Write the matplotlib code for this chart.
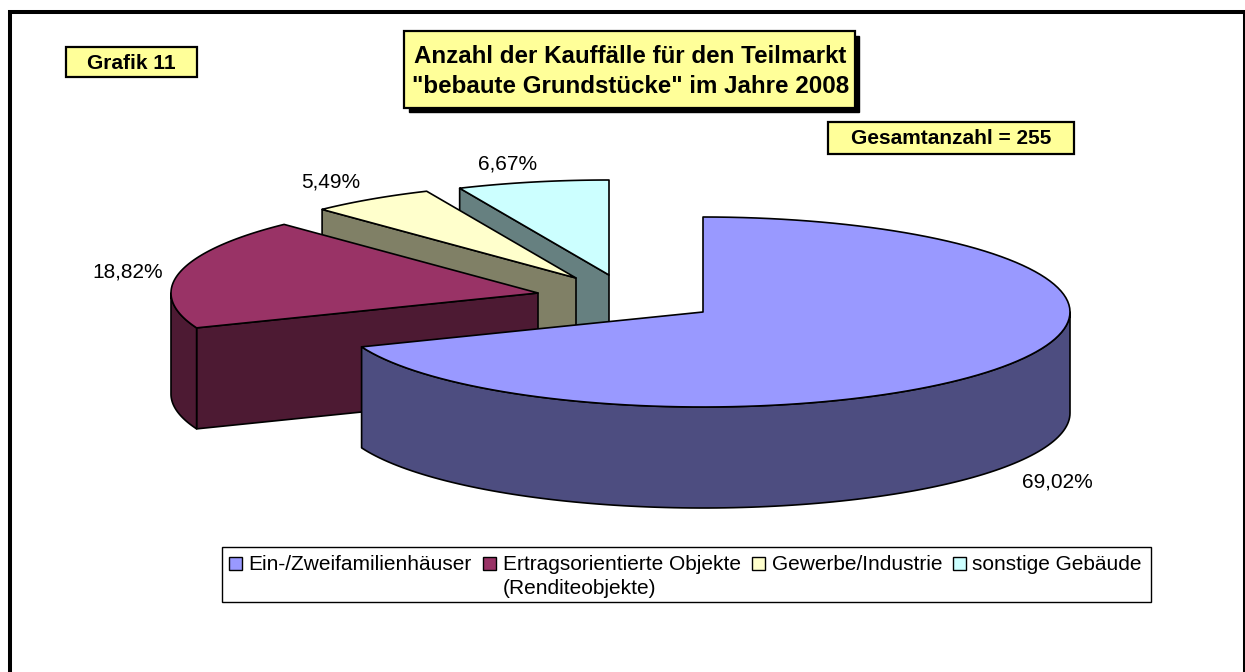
import numpy as np
import matplotlib
matplotlib.use("Agg")
import matplotlib.pyplot as plt
from matplotlib.patches import Polygon, Rectangle

plt.rcParams['font.family'] = ['Liberation Sans', 'DejaVu Sans']

# Daten
kategorien = ['Ein-/Zweifamilienhäuser', 'Ertragsorientierte Objekte\n(Renditeobjekte)',
              'Gewerbe/Industrie', 'sonstige Gebäude']
anteile = [69.02, 18.82, 5.49, 6.67]
farben = ['#9999FF', '#993366', '#FFFFCC', '#CCFFFF']
farben_seite = ['#4D4D80', '#4D1A33', '#808066', '#668080']

# Layout in Pixeln (Achse = Bild)
zentren = [(703, 312), (538, 293), (576, 278), (609, 275)]
RX, RY, TIEFE = 367, 95, 101
label_pos = [(1057, 488), (128, 277), (331, 188), (508, 170)]
legende_swatch_x = [229, 483, 752, 953]
legende_text_x = [248, 503, 772, 972]

fig = plt.figure(figsize=(12.45, 6.72), dpi=100)
ax = fig.add_axes([0, 0, 1, 1])
ax.set_xlim(0, 1245)
ax.set_ylim(672, 0)
ax.axis('off')


def bogen(cx, cy, w1, w2, dy=0):
    w = np.radians(np.linspace(w1, w2, 120))
    return np.column_stack([cx + RX * np.sin(w), cy - RY * np.cos(w) + dy])


# Rahmen
ax.add_patch(Rectangle((10, 12), 1235, 680, fc='white', ec='black', lw=2.9))

# Tortenstuecke von hinten nach vorne
grenzen = np.concatenate([[0], np.cumsum(anteile)]) / sum(anteile) * 360
for i in [3, 2, 1, 0]:
    cx, cy = zentren[i]
    w1, w2 = grenzen[i], grenzen[i + 1]
    # Schnittflaeche
    if w1 > 90:
        a = bogen(cx, cy, w1, w1)[0]
        ax.add_patch(Polygon([a, (cx, cy), (cx, cy + TIEFE), (a[0], a[1] + TIEFE)],
                             fc=farben_seite[i], ec='black', lw=1.2, joinstyle='round'))
    # Mantel
    v1, v2 = max(w1, 90), min(w2, 270)
    if v2 > v1:
        oben = bogen(cx, cy, v1, v2)
        unten = bogen(cx, cy, v1, v2, TIEFE)[::-1]
        ax.add_patch(Polygon(np.vstack([oben, unten]), fc=farben_seite[i], ec='black', lw=1.2,
                             joinstyle='round'))
    # Deckel
    ax.add_patch(Polygon(np.vstack([[(cx, cy)], bogen(cx, cy, w1, w2)]), fc=farben[i],
                         ec='black', lw=1.2, joinstyle='round'))

# Beschriftung der Stuecke
for wert, (x, y) in zip(anteile, label_pos):
    ax.text(x, y, f"{wert:.2f}%".replace('.', ','), fontsize=15, ha='center', va='baseline')

# Textkaesten
ax.add_patch(Rectangle((409, 36), 450, 76, fc='black', ec='black', lw=1))
ax.add_patch(Rectangle((404, 31), 451, 77, fc='#FFFF99', ec='black', lw=1.6))
ax.text(630.5, 63, 'Anzahl der Kauffälle für den Teilmarkt', fontsize=17.4, fontweight='bold',
        ha='center', va='baseline')
ax.text(630.5, 93, '"bebaute Grundstücke" im Jahre 2008', fontsize=17.4, fontweight='bold',
        ha='center', va='baseline')
ax.add_patch(Rectangle((66, 47), 131, 30, fc='#FFFF99', ec='black', lw=1.6))
ax.text(131, 69, 'Grafik 11', fontsize=15, fontweight='bold', ha='center', va='baseline')
ax.add_patch(Rectangle((828, 122), 246, 32, fc='#FFFF99', ec='black', lw=1.6))
ax.text(951, 144, 'Gesamtanzahl = 255', fontsize=15, fontweight='bold', ha='center', va='baseline')

# Legende
ax.add_patch(Rectangle((222, 547), 929, 55, fc='white', ec='black', lw=1.0))
for name, farbe, sx, tx in zip(kategorien, farben, legende_swatch_x, legende_text_x):
    ax.add_patch(Rectangle((sx, 557), 13, 13, fc=farbe, ec='black', lw=1.0))
    for j, zeile in enumerate(name.split('\n')):
        ax.text(tx, 570 + 23.5 * j, zeile, fontsize=15, ha='left', va='baseline')

plt.savefig('out.png', dpi=100)
